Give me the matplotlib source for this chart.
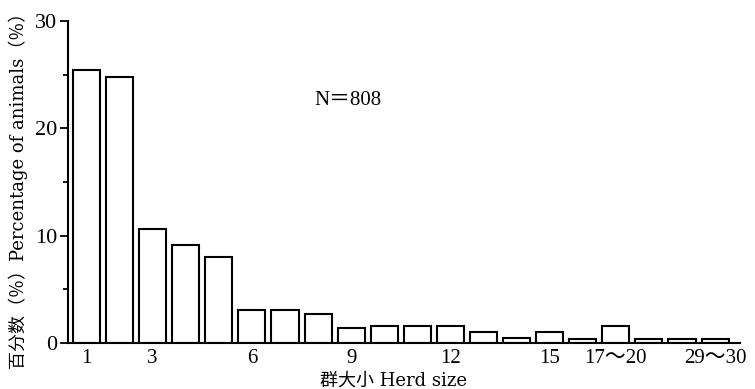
import matplotlib

matplotlib.use("Agg")
import matplotlib.pyplot as plt
from matplotlib.ticker import MultipleLocator

# percentage of animals per herd-size class
herd_size = ["1", "2", "3", "4", "5", "6", "7", "8", "9", "10", "11", "12",
             "13", "14", "15", "16", "17~20", "21~24", "25~28", "29~30"]
percent = [25.4, 24.8, 10.6, 9.1, 8.0, 3.1, 3.1, 2.7, 1.4, 1.6, 1.6, 1.6,
           1.0, 0.5, 1.0, 0.4, 1.6, 0.4, 0.4, 0.4]
shown_labels = ["1", "3", "6", "9", "12", "15", "17～20", "29～30"]
n_total = 808

NUM_FONT = ["Liberation Serif", "Noto Sans CJK SC"]
LABEL_FONT = ["DejaVu Serif", "Noto Sans CJK SC"]
plt.rcParams["font.family"] = NUM_FONT


def main():
    fig = plt.figure(figsize=(7.55, 3.89), dpi=100)
    ax = fig.add_axes([0.090, 0.118, 0.890, 0.828])

    x = list(range(len(percent)))
    ax.bar(x, percent, width=0.82, facecolor="white", edgecolor="black",
           linewidth=1.5, zorder=2)

    ax.set_xlim(-0.56, 19.75)
    ax.set_ylim(0, 30)

    for side in ("top", "right"):
        ax.spines[side].set_visible(False)
    for side in ("left", "bottom"):
        ax.spines[side].set_linewidth(1.5)

    ax.yaxis.set_major_locator(MultipleLocator(10))
    ax.yaxis.set_minor_locator(MultipleLocator(5))
    ax.tick_params(axis="y", which="major", direction="out", length=5.8,
                   width=1.3, labelsize=16, pad=2)
    ax.tick_params(axis="y", which="minor", direction="out", length=3.6,
                   width=1.3)

    # only some classes get a label under the axis
    tick_idx = [herd_size.index(s.replace("～", "~")) for s in shown_labels]
    ax.set_xticks(tick_idx)
    ax.set_xticklabels(shown_labels, fontsize=15)
    ax.tick_params(axis="x", length=0, pad=4)

    ax.text(6.9, 22.6, f"N＝{n_total}", ha="left", va="center", fontsize=15)

    fig.text(0.024, 0.522, "百分数（％）Percentage of animals（％）", rotation=90,
             ha="center", va="center", fontsize=13, family=LABEL_FONT)
    fig.text(0.521, 0.022, "群大小 Herd size", ha="center", va="center",
             fontsize=13, family=LABEL_FONT)

    fig.savefig("out.png", dpi=100)


if __name__ == "__main__":
    main()
